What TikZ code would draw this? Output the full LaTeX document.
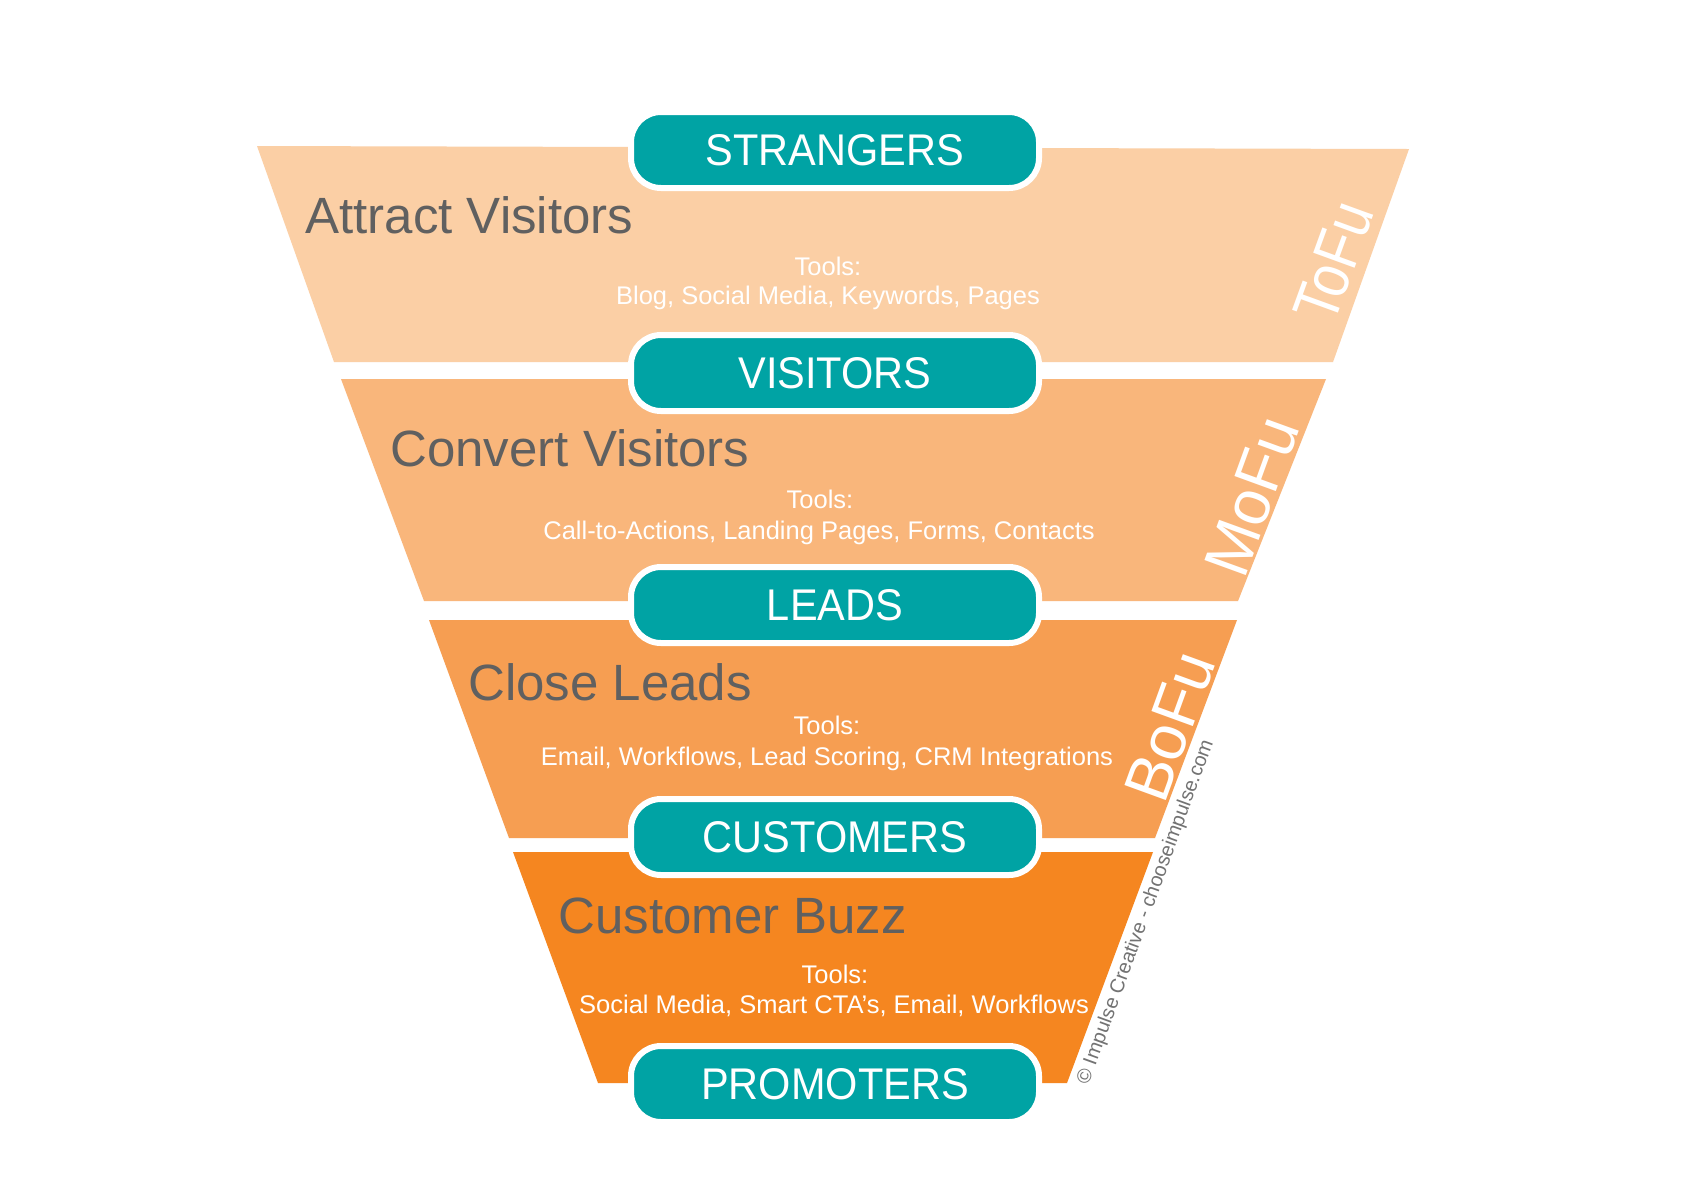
\documentclass[tikz,border=0pt]{standalone}
\usepackage{fontspec}
\setmainfont{Liberation Sans}
\definecolor{bandA}{RGB}{251,207,165}
\definecolor{bandB}{RGB}{249,182,123}
\definecolor{bandC}{RGB}{246,158,82}
\definecolor{bandD}{RGB}{245,134,32}
\definecolor{pillteal}{RGB}{0,163,164}
\definecolor{labelgray}{RGB}{96,96,96}
\definecolor{copygray}{RGB}{115,115,115}
\newcommand{\pilltext}[1]{\scalebox{1}[1.07]{#1}}
\begin{document}
\begin{tikzpicture}[x=0.5pt,y=-0.5pt,
  pill/.style={rectangle, rounded corners=15pt, fill=pillteal, draw=white, line width=3pt,
    minimum width=204pt, minimum height=38pt, inner sep=0pt, text=white,
    font=\fontsize{20.75}{24}\selectfont},
  stagelabel/.style={anchor=base west, inner sep=0pt, text=labelgray,
    font=\fontsize{25.5}{30}\selectfont},
  toolstext/.style={anchor=base, inner sep=0pt, text=white,
    font=\fontsize{12.75}{15}\selectfont},
  fulabel/.style={rotate=70, inner sep=0pt, text=white,
    font=\fontsize{32}{36}\selectfont},
  credit/.style={rotate=70, inner sep=0pt, text=copygray,
    font=\fontsize{10}{12}\selectfont}]
\fill[white] (0,0) rectangle (1690,1200);
\useasboundingbox (0,0) rectangle (1690,1200);

% funnel bands
\fill[bandA] (257,146) -- (1409,149) -- (1333,362) -- (334,362) -- cycle;
\fill[bandB] (341,379) -- (1326,379) -- (1238,601) -- (424,601) -- cycle;
\fill[bandC] (429,620) -- (1237,620) -- (1155,838) -- (509,838) -- cycle;
\fill[bandD] (513,852) -- (1153,852) -- (1067,1083) -- (598,1083) -- cycle;

% stage titles
\node[stagelabel] (attract) at (305,233) {Attract Visitors};
\node[stagelabel] (convert) at (390,466) {Convert Visitors};
\node[stagelabel] (close) at (468,700) {Close Leads};
\node[stagelabel] (buzz) at (558,933) {Customer Buzz};

% tools
\node[toolstext] (toolsA) at (828,275) {Tools:};
\node[toolstext] (listA) at (828,304) {Blog, Social Media, Keywords, Pages};
\node[toolstext] (toolsB) at (820,508) {Tools:};
\node[toolstext] (listB) at (819,539) {Call-to-Actions, Landing Pages, Forms, Contacts};
\node[toolstext] (toolsC) at (827,734) {Tools:};
\node[toolstext] (listC) at (827,765) {Email, Workflows, Lead Scoring, CRM Integrations};
\node[toolstext] (toolsD) at (835,983) {Tools:};
\node[toolstext] (listD) at (834,1013) {Social Media, Smart CTA’s, Email, Workflows};

% funnel stage tags
\node[fulabel] (tofu) at (1334,262) {\scalebox{0.86}[1]{ToFu}};
\node[fulabel] (mofu) at (1252,496) {MoFu};
\node[fulabel] (bofu) at (1170,726) {BoFu};

% credit
\node[credit] (copy) at (1146,912) {© Impulse Creative - chooseimpulse.com};

% pills
\node[pill] (strangers) at (835,150) {\pilltext{STRANGERS}};
\node[pill] (visitors) at (835,373) {\pilltext{VISITORS}};
\node[pill] (leads) at (835,605) {\pilltext{LEADS}};
\node[pill] (customers) at (835,837) {\pilltext{CUSTOMERS}};
\node[pill] (promoters) at (835,1084) {\pilltext{PROMOTERS}};
\end{tikzpicture}
\end{document}
